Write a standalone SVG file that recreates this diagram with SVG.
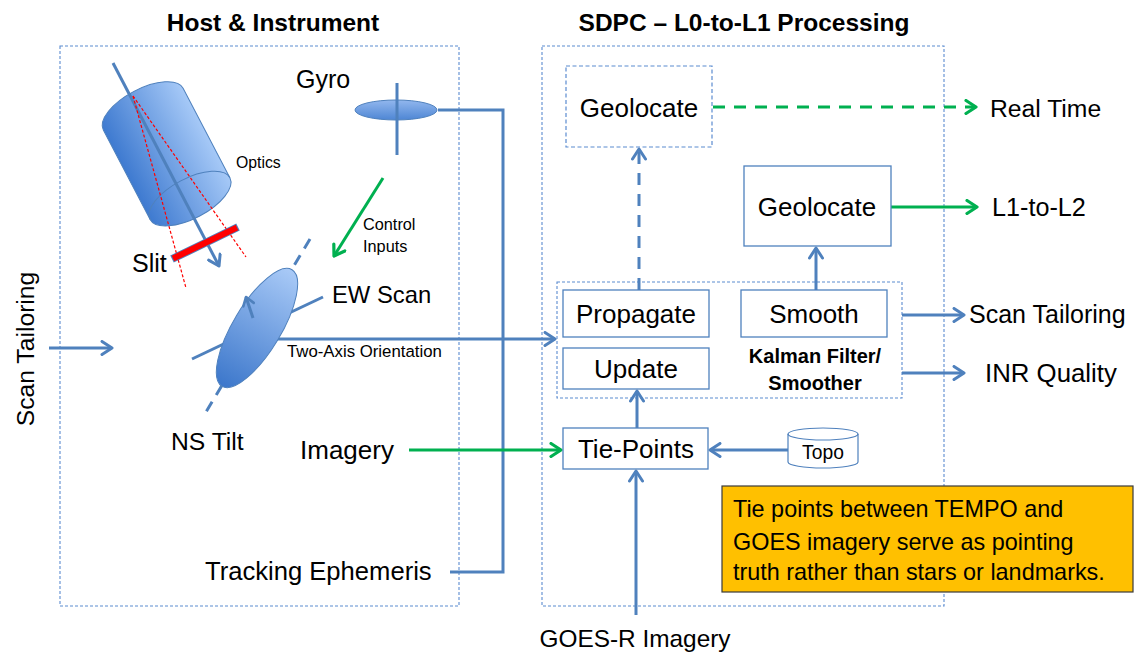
<svg xmlns="http://www.w3.org/2000/svg" width="1136" height="656" viewBox="0 0 1136 656">
<style>
text{font-family:"Liberation Sans",Arial,sans-serif;fill:#000}
.title{font-weight:bold;font-size:24.5px;text-anchor:middle}
.lbl{font-size:25px}
.box{fill:#fff;stroke:#4F81BD;stroke-width:1.3}
.boxd{fill:#fff;stroke:#5B8BD0;stroke-width:1.2;stroke-dasharray:4 2.5}
.cont{fill:none;stroke:#5B8BD0;stroke-width:1.1;stroke-dasharray:3 2}
.bt{font-size:26px;text-anchor:middle}
.bl{fill:none;stroke:#4F81BD;stroke-width:3}
.gr{fill:none;stroke:#00B050;stroke-width:3}
.dash{stroke-dasharray:12 9}
</style>
<defs>
<marker id="ab" markerUnits="userSpaceOnUse" viewBox="0 0 14 16" markerWidth="14" markerHeight="16" refX="12" refY="8" orient="auto">
<path d="M2,1.5 L12,8 L2,14.5" fill="none" stroke="#4F81BD" stroke-width="3" stroke-linecap="round" stroke-linejoin="round"/>
</marker>
<marker id="ag" markerUnits="userSpaceOnUse" viewBox="0 0 14 16" markerWidth="14" markerHeight="16" refX="12" refY="8" orient="auto">
<path d="M2,1.5 L12,8 L2,14.5" fill="none" stroke="#00B050" stroke-width="3.2" stroke-linecap="round" stroke-linejoin="round"/>
</marker>
<marker id="abs" markerUnits="userSpaceOnUse" viewBox="0 0 12 14" markerWidth="12" markerHeight="14" refX="10" refY="7" orient="auto">
<path d="M2,1.5 L10,7 L2,12.5" fill="none" stroke="#4F81BD" stroke-width="2.6" stroke-linecap="round" stroke-linejoin="round"/>
</marker>
<linearGradient id="cylG" x1="0" y1="0" x2="1" y2="0">
<stop offset="0" stop-color="#3E7AD0"/>
<stop offset="1" stop-color="#A6C9F7"/>
</linearGradient>
<linearGradient id="mirG" x1="0" y1="0" x2="0" y2="1">
<stop offset="0" stop-color="#A9CAF7"/>
<stop offset="1" stop-color="#3C77CB"/>
</linearGradient>
<linearGradient id="gyG" x1="0" y1="0" x2="0" y2="1">
<stop offset="0" stop-color="#92B7EE"/>
<stop offset="1" stop-color="#4E86D4"/>
</linearGradient>
</defs>

<rect width="1136" height="656" fill="#fff"/>

<!-- containers -->
<g id="host-container">
<rect class="cont" x="60" y="46" width="399" height="560"/>
<text class="title" x="273" y="31">Host &amp; Instrument</text>
</g>
<g id="sdpc-container">
<rect class="cont" x="542" y="46" width="402" height="560"/>
<text class="title" x="744" y="31">SDPC – L0-to-L1 Processing</text>
</g>
<g id="kalman">
<rect class="cont" x="557" y="282" width="345" height="116"/>
<text x="815" y="363" font-size="20" font-weight="bold" text-anchor="middle">Kalman Filter/</text>
<text x="815" y="390" font-size="20" font-weight="bold" text-anchor="middle">Smoother</text>
</g>

<!-- connectors -->
<g id="connectors">
<path class="bl" d="M438,110 H503 V572 H450"/>
<line class="bl" x1="270" y1="339" x2="555" y2="339" marker-end="url(#ab)"/>
<line class="bl" x1="49" y1="348" x2="112" y2="348" marker-end="url(#ab)"/>
<line class="gr" x1="409" y1="450" x2="561" y2="450" marker-end="url(#ag)"/>
<line class="bl" x1="636" y1="615" x2="636" y2="471" marker-end="url(#ab)"/>
<line class="bl" x1="788" y1="450" x2="710" y2="450" marker-end="url(#ab)"/>
<line class="bl" x1="637" y1="428" x2="637" y2="391" marker-end="url(#ab)"/>
<line class="bl dash" x1="639" y1="290" x2="639" y2="149" marker-end="url(#ab)"/>
<line class="bl" x1="816" y1="290" x2="816" y2="248" marker-end="url(#ab)"/>
<line class="gr dash" x1="713" y1="107" x2="976" y2="107" stroke-width="3.5" marker-end="url(#ag)"/>
<line class="gr" x1="891" y1="207" x2="977" y2="207" marker-end="url(#ag)"/>
<line class="bl" x1="902" y1="315" x2="964" y2="315" marker-end="url(#ab)"/>
<line class="bl" x1="902" y1="373" x2="964" y2="373" marker-end="url(#ab)"/>
<line class="gr" x1="383" y1="178" x2="334" y2="256" marker-end="url(#ag)"/>
</g>

<!-- instrument: optics -->
<g id="optics">
<g transform="translate(67.7,-35.4) rotate(-27.6)">
<path d="M-45,163 A45,20 0 0 1 45,163 L45,264 A45,20 0 0 1 -45,264 Z" fill="url(#cylG)" stroke="#4F81BD" stroke-width="1"/>
<path d="M-45,264 A45,20 0 0 1 45,264" fill="none" stroke="#4F81BD" stroke-width="1"/>
</g>
<line x1="113" y1="63" x2="219" y2="266" stroke="#4F81BD" stroke-width="3" marker-end="url(#ab)"/>
<line x1="133" y1="96" x2="186" y2="288" stroke="#FF0000" stroke-width="1.2" stroke-dasharray="3 2"/>
<line x1="133" y1="96" x2="246" y2="257" stroke="#FF0000" stroke-width="1.2" stroke-dasharray="3 2"/>
<line x1="172" y1="259" x2="238" y2="227" stroke="#4F81BD" stroke-width="8"/>
<line x1="173" y1="258.5" x2="237" y2="227.5" stroke="#FF0000" stroke-width="6"/>
<text x="236" y="168" font-size="15.8">Optics</text>
<text class="lbl" x="132" y="272">Slit</text>
</g>

<!-- gyro -->
<g id="gyro">
<ellipse cx="396" cy="110" rx="41" ry="10" fill="url(#gyG)" stroke="#4F81BD" stroke-width="1"/>
<line x1="397" y1="83" x2="397" y2="155" stroke="#4F81BD" stroke-width="3"/>
<text class="lbl" x="296" y="88">Gyro</text>
</g>

<g id="control-inputs">
<text x="363" y="230" font-size="16.3">Control</text>
<text x="363" y="252" font-size="16.3">Inputs</text>
</g>

<!-- scan mirror -->
<g id="mirror">
<line x1="310" y1="239" x2="203" y2="417" stroke="#4F81BD" stroke-width="3" stroke-dasharray="11 8"/>
<line x1="323" y1="297" x2="192" y2="359" stroke="#4F81BD" stroke-width="3"/>
<g transform="translate(257,328) rotate(31)">
<ellipse cx="0" cy="0" rx="24" ry="68" fill="url(#mirG)" stroke="#4F81BD" stroke-width="1"/>
</g>
<line x1="253" y1="318" x2="246" y2="297" stroke="#4F81BD" stroke-width="3" marker-end="url(#abs)"/>
<text x="332" y="303" font-size="23.8">EW Scan</text>
<text x="287" y="357" font-size="16.8">Two-Axis Orientation</text>
<text x="171" y="450" font-size="24.7">NS Tilt</text>
</g>

<g id="imagery-src"><text x="300" y="459" font-size="26">Imagery</text></g>
<g id="tracking-ephemeris"><text x="205" y="580" font-size="25.6">Tracking Ephemeris</text></g>
<g id="scan-tailoring-in"><text transform="translate(34,349) rotate(-90)" font-size="24.7" text-anchor="middle">Scan Tailoring</text></g>
<g id="goes-r"><text x="635" y="647" font-size="24.4" text-anchor="middle">GOES-R Imagery</text></g>

<!-- SDPC nodes -->
<g id="geolocate-rt">
<rect class="boxd" x="566" y="66" width="146" height="81"/>
<text class="bt" x="639" y="117">Geolocate</text>
</g>
<g id="geolocate">
<rect class="box" x="744" y="166" width="147" height="80"/>
<text class="bt" x="817" y="216">Geolocate</text>
</g>
<g id="propagate">
<rect class="box" x="563" y="290" width="146" height="47"/>
<text class="bt" x="636" y="323">Propagate</text>
</g>
<g id="smooth">
<rect class="box" x="741" y="290" width="146" height="47"/>
<text class="bt" x="814" y="323">Smooth</text>
</g>
<g id="update">
<rect class="box" x="563" y="348" width="146" height="41"/>
<text class="bt" x="636" y="378">Update</text>
</g>
<g id="tie-points">
<rect class="box" x="563" y="428" width="145" height="41"/>
<text class="bt" x="636" y="458">Tie-Points</text>
</g>
<g id="topo">
<path d="M788,434 A35,6 0 0 1 858,434 L858,462 A35,6 0 0 1 788,462 Z" fill="#fff" stroke="#4F81BD" stroke-width="1.2"/>
<path d="M788,434 A35,6 0 0 0 858,434" fill="none" stroke="#4F81BD" stroke-width="1.2"/>
<text x="823" y="459" font-size="19.3" text-anchor="middle">Topo</text>
</g>

<!-- outputs -->
<g id="out-realtime"><text x="990" y="117" font-size="24.7">Real Time</text></g>
<g id="out-l1l2"><text x="992" y="216" font-size="25.2">L1-to-L2</text></g>
<g id="out-scan"><text x="969" y="323" font-size="25">Scan Tailoring</text></g>
<g id="out-inr"><text x="985" y="382" font-size="25.8">INR Quality</text></g>

<g id="note">
<rect x="722" y="486" width="411" height="106" fill="#FFC000" stroke="#3A3A3A" stroke-width="1.2"/>
<text x="733" y="517" font-size="23.4">Tie points between TEMPO and</text>
<text x="733" y="550" font-size="23.4">GOES imagery serve as pointing</text>
<text x="733" y="580" font-size="23.4">truth rather than stars or landmarks.</text>
</g>
</svg>
